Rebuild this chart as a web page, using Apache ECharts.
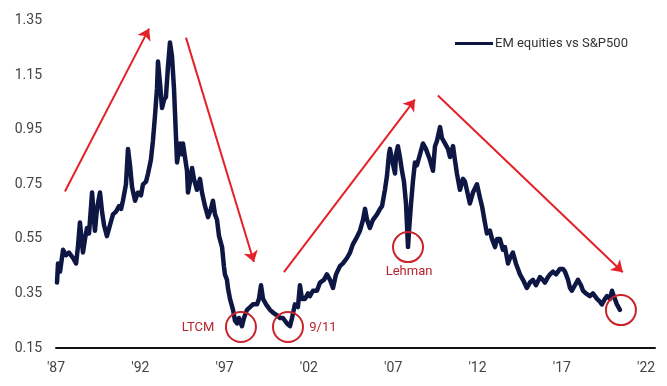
<!DOCTYPE html>
<html>
<head>
<meta charset="utf-8">
<script src="https://cdn.jsdelivr.net/npm/echarts@6/dist/echarts.min.js"></script>
<style>
html,body{margin:0;padding:0;background:#fff;}
#chart{width:667px;height:386px;}
</style>
</head>
<body>
<div id="chart"></div>
<script>
// Decimal years of each reading
var years = [
1987.06,1987.12,1987.24,1987.42,1987.59,1987.77,1988.01,1988.19,1988.30,1988.42,
1988.60,1988.72,1988.84,1988.96,1989.14,1989.25,1989.31,1989.43,1989.61,1989.73,
1989.85,1990.02,1990.20,1990.38,1990.56,1990.74,1990.86,1990.97,1991.15,1991.27,
1991.39,1991.51,1991.69,1991.86,1992.04,1992.16,1992.34,1992.46,1992.63,1992.75,
1992.87,1992.99,1993.05,1993.17,1993.29,1993.41,1993.52,1993.64,1993.76,1993.88,
1994.00,1994.06,1994.18,1994.30,1994.35,1994.47,1994.53,1994.65,1994.77,1994.83,
1994.95,1995.07,1995.18,1995.36,1995.54,1995.66,1995.84,1996.02,1996.19,1996.31,
1996.43,1996.55,1996.67,1996.85,1996.96,1997.02,1997.14,1997.20,1997.32,1997.50,
1997.62,1997.74,1997.85,1998.03,1998.15,1998.33,1998.51,1998.68,1998.92,1999.04,
1999.16,1999.28,1999.46,1999.69,1999.87,2000.11,2000.29,2000.46,2000.58,2000.70,
2000.88,2001.00,2001.17,2001.35,2001.47,2001.59,2001.77,2001.95,2002.06,2002.24,
2002.48,2002.66,2002.89,2003.07,2003.25,2003.43,2003.61,2003.84,2004.02,2004.26,
2004.44,2004.61,2004.79,2005.03,2005.21,2005.33,2005.45,2005.62,2005.80,2006.04,
2006.22,2006.34,2006.51,2006.63,2006.75,2006.81,2006.93,2007.11,2007.17,2007.28,
2007.40,2007.52,2007.64,2007.76,2007.82,2007.88,2007.94,2008.06,2008.17,2008.29,
2008.41,2008.59,2008.77,2008.94,2009.18,2009.36,2009.48,2009.60,2009.78,2009.89,
2010.07,2010.25,2010.37,2010.55,2010.66,2010.78,2010.96,2011.14,2011.26,2011.44,
2011.55,2011.73,2011.97,2012.15,2012.27,2012.44,2012.56,2012.74,2012.86,2013.04,
2013.16,2013.33,2013.51,2013.63,2013.81,2013.93,2014.10,2014.28,2014.52,2014.70,
2014.93,2015.11,2015.29,2015.47,2015.71,2015.88,2016.00,2016.18,2016.30,2016.48,
2016.66,2016.89,2017.07,2017.19,2017.37,2017.49,2017.60,2017.78,2017.96,2018.14,
2018.26,2018.43,2018.67,2018.85,2019.09,2019.26,2019.38,2019.56,2019.68,2019.86,
2019.98,2020.09,2020.15,2020.27,2020.45
];
// EM equities vs S&P500 ratio
var ratio = [
0.39,0.46,0.43,0.51,0.49,0.50,0.48,0.46,0.52,0.61,
0.50,0.55,0.59,0.57,0.72,0.62,0.58,0.66,0.72,0.65,
0.60,0.56,0.60,0.64,0.65,0.67,0.66,0.69,0.75,0.88,
0.82,0.74,0.69,0.72,0.71,0.75,0.76,0.79,0.84,0.91,
1.00,1.10,1.20,1.12,1.03,1.06,1.07,1.18,1.27,1.22,
1.10,1.01,0.83,0.88,0.90,0.86,0.90,0.85,0.80,0.72,
0.76,0.81,0.77,0.73,0.77,0.72,0.67,0.63,0.66,0.69,
0.64,0.62,0.56,0.52,0.45,0.42,0.40,0.37,0.33,0.29,
0.25,0.24,0.26,0.23,0.26,0.29,0.30,0.31,0.31,0.33,
0.38,0.33,0.31,0.29,0.28,0.27,0.26,0.26,0.25,0.24,
0.23,0.26,0.31,0.30,0.38,0.33,0.33,0.35,0.34,0.36,
0.36,0.39,0.40,0.42,0.40,0.37,0.42,0.45,0.46,0.48,
0.50,0.53,0.55,0.58,0.62,0.66,0.62,0.59,0.62,0.64,
0.66,0.67,0.73,0.78,0.86,0.88,0.84,0.79,0.86,0.89,
0.85,0.80,0.76,0.68,0.60,0.52,0.58,0.68,0.76,0.83,
0.82,0.86,0.90,0.88,0.84,0.80,0.89,0.91,0.96,0.92,
0.90,0.88,0.85,0.89,0.84,0.79,0.73,0.77,0.76,0.71,
0.68,0.72,0.75,0.70,0.67,0.61,0.57,0.58,0.55,0.52,
0.55,0.55,0.51,0.52,0.46,0.48,0.50,0.46,0.42,0.40,
0.37,0.39,0.40,0.38,0.41,0.40,0.39,0.41,0.42,0.43,
0.42,0.44,0.44,0.43,0.40,0.37,0.36,0.38,0.40,0.38,
0.36,0.35,0.34,0.35,0.33,0.32,0.31,0.33,0.34,0.33,
0.36,0.34,0.33,0.31,0.29
];
var seriesName = 'EM equities vs S&P500';
var yTicks = [0.15, 0.35, 0.55, 0.75, 0.95, 1.15, 1.35];
var xTickYears = [1987, 1992, 1997, 2002, 2007, 2012, 2017, 2022];

// Annotation arrows [startYear, startVal, endYear, endVal]
var arrows = [
  [1987.53, 0.724, 1992.52, 1.321],
  [1994.71, 1.288, 1998.74, 0.465],
  [2000.52, 0.428, 2008.29, 1.061],
  [2009.65, 1.076, 2020.62, 0.428]
];
// Circled events [year, value]
var circles = [
  [1997.97, 0.227],
  [2000.76, 0.227],
  [2007.88, 0.520],
  [2020.51, 0.289]
];
// Event labels [text, year, value]
var eventLabels = [
  ['LTCM', 1995.42, 0.223],
  ['9/11', 2002.83, 0.223],
  ['Lehman', 2007.94, 0.428]
];

var lineData = years.map(function (y, i) { return [y, ratio[i]]; });

var chart = echarts.init(document.getElementById('chart'), null, {renderer: 'canvas'});

var markLineData = arrows.map(function (a) {
  return [{coord: [a[0], a[1]]}, {coord: [a[2], a[3]]}];
});
var markPointData = circles.map(function (c) {
  return {
    coord: c, symbol: 'circle', symbolSize: 30,
    itemStyle: {color: 'rgba(0,0,0,0)', borderColor: '#c9232b', borderWidth: 2},
    label: {show: false}
  };
}).concat(eventLabels.map(function (e) {
  return {
    coord: [e[1], e[2]], symbol: 'circle', symbolSize: 1,
    itemStyle: {color: 'rgba(0,0,0,0)'},
    label: {show: true, position: 'inside', formatter: e[0], color: '#b8232d',
            fontSize: 13, fontFamily: 'Roboto'}
  };
}));

chart.setOption({
  animation: false,
  backgroundColor: '#ffffff',
  grid: {left: 56, right: 12, top: 20.7, bottom: 38, containLabel: false},
  legend: {
    show: true,
    left: 450, top: 32,
    icon: 'rect',
    itemWidth: 38, itemHeight: 3,
    itemGap: 0,
    textStyle: {fontSize: 13, color: '#333', fontFamily: 'Roboto', padding: [0, 0, 0, -3]},
    data: [seriesName]
  },
  xAxis: {
    type: 'value',
    min: 1987, max: 2022.53, interval: 5,
    axisLine: {show: true, lineStyle: {color: '#111', width: 2}},
    axisTick: {show: false},
    splitLine: {show: false},
    axisLabel: {
      margin: 13, color: '#444', fontSize: 14, fontFamily: 'Roboto',
      showMaxLabel: false,
      formatter: function (v) {
        for (var i = 0; i < xTickYears.length; i++) {
          if (Math.abs(v - xTickYears[i]) < 0.01) return "'" + String(xTickYears[i]).slice(2);
        }
        return '';
      }
    }
  },
  yAxis: {
    type: 'value',
    min: yTicks[0], max: yTicks[yTicks.length - 1], interval: 0.2,
    axisLine: {show: false},
    axisTick: {show: false},
    splitLine: {show: false},
    axisLabel: {
      margin: 14, color: '#444', fontSize: 14, fontFamily: 'Roboto',
      formatter: function (v) { return v.toFixed(2); }
    }
  },
  series: [{
    name: seriesName,
    type: 'line',
    data: lineData,
    showSymbol: false,
    symbol: 'none',
    color: '#0e1744',
    lineStyle: {color: '#0e1744', width: 4.5, join: 'round', cap: 'round'},
    markLine: {
      silent: true,
      symbol: ['none', 'arrow'],
      symbolSize: 11,
      label: {show: false},
      lineStyle: {color: '#e42128', width: 2, type: 'solid'},
      emphasis: {disabled: true},
      data: markLineData
    },
    markPoint: {
      silent: true,
      data: markPointData
    }
  }]
});
</script>
</body>
</html>
